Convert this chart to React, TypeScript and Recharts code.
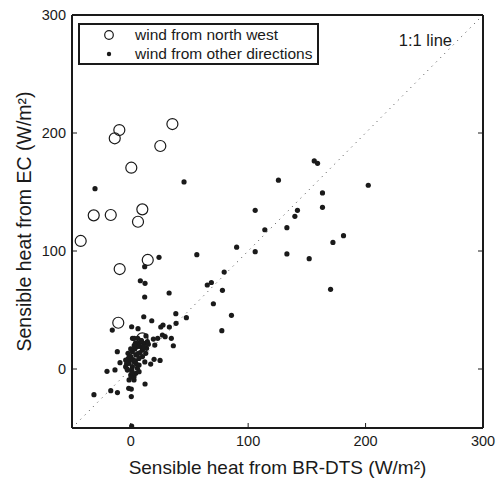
import {
  ScatterChart,
  Scatter,
  XAxis,
  YAxis,
  ReferenceLine,
  ReferenceDot,
  Legend,
} from "recharts";

// wind from north west (open circles): [BR-DTS, EC]
const northWestX = [-9.7, -13.6, 35.5, 25.2, 0.5, -31.5, -17, 9.9, 6.2, -42.6, 14.5, -9.4, -10.6, 9.9];
const northWestY = [202.5, 195.5, 207.6, 189, 170.6, 130.2, 130.5, 135.3, 124.8, 108.5, 92.4, 84.7, 39.2, 26];

// wind from other directions (dots)
const otherX = [
  -30.4, 45.4, 125.8, 106, 114.2, 56.3, 90.2, 106, 24.1, 11.9, 79.6, 8.2, 12.2, 65.2, 68.7, 78.1,
  32.7, 11.9, 70.4, 85.8, 77.6, 11.1, 38.4, 47.4, 38.6, 17.9, -15.7, 0.8, 6.2, 25.6, 27.5, 32.9,
  156.3, 159.1, 202.3, 163.3, 142, 139.8, 163.3, 133, 181.2, 172.2, 133, 152, 170.2,
  1.5, 3, 19.3, 23, 27, 29.3, 34.6, 36.3, 20.5, 13.5, -11.4, -9.1, 19.9, 25, 17, -20.2, -13.4,
  12.2, -1.7, 0.5, 0.5, -31.3, -17, -11.3, 0.8,
  -2.3, 0, 1.4, 4.3, -1.4, 1.4, -4.3, -2.8, 0, 4.3, 7.1, 2.8, -1.4, 7.1, 10, 12.8, 8.5, 11.4,
  14.2, 5.7, 7.1, 10, -4.3, 2.8, 5.7, 2.8, -0.5, 3.5, 9, 6, -3, 1, 12, 4, 8,
  -1, 2, 5, 0, 3, 6, 9, -2, 1, 4, 11, 13, 7, 15, -3.5, 0.5,
];
const otherY = [
  152.8, 158.5, 160, 134.5, 118, 96.9, 103.2, 99.4, 94.6, 86.7, 82.2, 74.8, 72.6, 71.2, 73.3, 66.7,
  64.4, 61, 55.3, 45.5, 32.5, 44.3, 46.9, 43.5, 38.7, 40.9, 33, 35.8, 34.2, 35.6, 37.3, 35.6,
  176.3, 174.3, 155.7, 149.2, 134.5, 129.4, 137, 119.8, 113, 107.3, 97.5, 93.5, 67.5,
  26, 26, 25.4, 26, 28.8, 27.4, 26, 19.7, 20.3, 17.5, 14.7, 5.4, 8.2, 7.3, 4.2, -2, -0.8,
  -12.7, -16.4, -17, -23.4, -21.8, -18.4, -20, -48.3,
  13.3, 10.5, 14.7, 11.9, 4.8, 2, 2, -0.8, -5.1, -3.7, -2.3, -9.3, -9.3, 3.4, 10.5, 13.3, 19, 21.8,
  23.2, 19, 21.8, 16.1, 7.6, 6.2, 0.6, -6.5, 8, 17, 24, 26, 0, -1, 6, 22, 14,
  11, 8, 4, 17, 20, 13, 24, 9, -3, 7, 19, 28, 9, 21, 4.5, -7,
];

const axisTicks = [0, 100, 200, 300];
const domain: [number, number] = [-50, 300];

const northWest = northWestX.map((x, i) => ({ x, y: northWestY[i] }));
const other = otherX.map((x, i) => ({ x, y: otherY[i] }));

const FONT = "'Liberation Sans', Arial, Helvetica, sans-serif";
const INK = "#1a1a1a";

function LeftTick(props: any) {
  const { x, y, payload } = props;
  return (
    <g>
      <line x1={x} x2={x + 5} y1={y} y2={y} stroke={INK} strokeWidth={1} />
      <text x={x - 6} y={y} dy="0.36em" textAnchor="end" fontSize={14.5} fill={INK} fontFamily={FONT}>
        {payload.value}
      </text>
    </g>
  );
}

function BottomTick(props: any) {
  const { x, y, payload } = props;
  return (
    <g>
      <line x1={x} x2={x} y1={y} y2={y - 5} stroke={INK} strokeWidth={1} />
      <text x={x} y={y + 18} textAnchor="middle" fontSize={14.5} fill={INK} fontFamily={FONT}>
        {payload.value}
      </text>
    </g>
  );
}

function TopTick(props: any) {
  const { x, y } = props;
  return <line x1={x} x2={x} y1={y} y2={y + 5} stroke={INK} strokeWidth={1} />;
}

function RightTick(props: any) {
  const { x, y } = props;
  return <line x1={x} x2={x - 5} y1={y} y2={y} stroke={INK} strokeWidth={1} />;
}

function LegendBox() {
  return (
    <div
      style={{
        width: 237,
        height: 38,
        border: `2px solid ${INK}`,
        background: "#fff",
        fontFamily: FONT,
        fontSize: 15.5,
        color: INK,
        position: "relative",
      }}
    >
      <svg width={20} height={40} style={{ position: "absolute", left: 19, top: 0 }}>
        <circle cx={10} cy={10} r={4.3} fill="none" stroke={INK} strokeWidth={1.2} />
        <circle cx={10} cy={29} r={2.2} fill={INK} />
      </svg>
      <div style={{ position: "absolute", left: 55, top: 0, lineHeight: "19px", whiteSpace: "nowrap" }}>
        wind from north west
      </div>
      <div style={{ position: "absolute", left: 55, top: 19, lineHeight: "19px", whiteSpace: "nowrap" }}>
        wind from other directions
      </div>
    </div>
  );
}

export default function App() {
  return (
    <div style={{ position: "absolute", left: 0, top: 0, width: 497, height: 481, background: "#fff" }}>
      <ScatterChart width={497} height={481} margin={{ top: 11, right: 10, bottom: 3, left: 12 }}>
        <XAxis
          type="number"
          dataKey="x"
          domain={domain}
          ticks={axisTicks}
          allowDataOverflow
          height={50}
          tickSize={0}
          tickMargin={0}
          tick={<BottomTick />}
          axisLine={{ stroke: INK, strokeWidth: 2 }}
          label={{
            value: "Sensible heat from BR-DTS (W/m²)",
            position: "insideBottom",
            offset: 4,
            style: { fontSize: 19, fill: INK, fontFamily: FONT },
          }}
        />
        <XAxis
          xAxisId="top"
          orientation="top"
          type="number"
          domain={domain}
          ticks={axisTicks}
          allowDataOverflow
          height={4}
          tickSize={0}
          tickMargin={0}
          tick={<TopTick />}
          axisLine={{ stroke: INK, strokeWidth: 2 }}
        />
        <YAxis
          type="number"
          dataKey="y"
          domain={domain}
          ticks={axisTicks}
          allowDataOverflow
          width={60}
          tickSize={0}
          tickMargin={0}
          tick={<LeftTick />}
          axisLine={{ stroke: INK, strokeWidth: 2 }}
          label={{
            value: "Sensible heat from EC (W/m²)",
            angle: -90,
            position: "insideLeft",
            offset: 12,
            style: { fontSize: 19.5, fill: INK, fontFamily: FONT, textAnchor: "middle" },
          }}
        />
        <YAxis
          yAxisId="right"
          orientation="right"
          type="number"
          domain={domain}
          ticks={axisTicks}
          allowDataOverflow
          width={4}
          tickSize={0}
          tickMargin={0}
          tick={<RightTick />}
          axisLine={{ stroke: INK, strokeWidth: 2 }}
        />
        <ReferenceLine
          segment={[
            { x: domain[0], y: domain[0] },
            { x: domain[1], y: domain[1] },
          ]}
          stroke="#444"
          strokeWidth={1}
          strokeDasharray="1 5"
        />
        <ReferenceDot
          x={251}
          y={279}
          r={0}
          fill="none"
          stroke="none"
          label={{ value: "1:1 line", position: "center", style: { fontSize: 16.5, fill: INK, fontFamily: FONT } }}
        />
        <Scatter
          name="wind from north west"
          data={northWest}
          isAnimationActive={false}
          shape={(p: any) => <circle cx={p.cx} cy={p.cy} r={5.5} fill="none" stroke={INK} strokeWidth={1.2} />}
        />
        <Scatter
          name="wind from other directions"
          data={other}
          isAnimationActive={false}
          shape={(p: any) => <circle cx={p.cx} cy={p.cy} r={2.6} fill={INK} />}
        />
        <Legend
          layout="horizontal"
          verticalAlign="middle"
          align="center"
          wrapperStyle={{ left: 78, top: 23, width: 241, height: 42 }}
          content={() => <LegendBox />}
        />
      </ScatterChart>
    </div>
  );
}
